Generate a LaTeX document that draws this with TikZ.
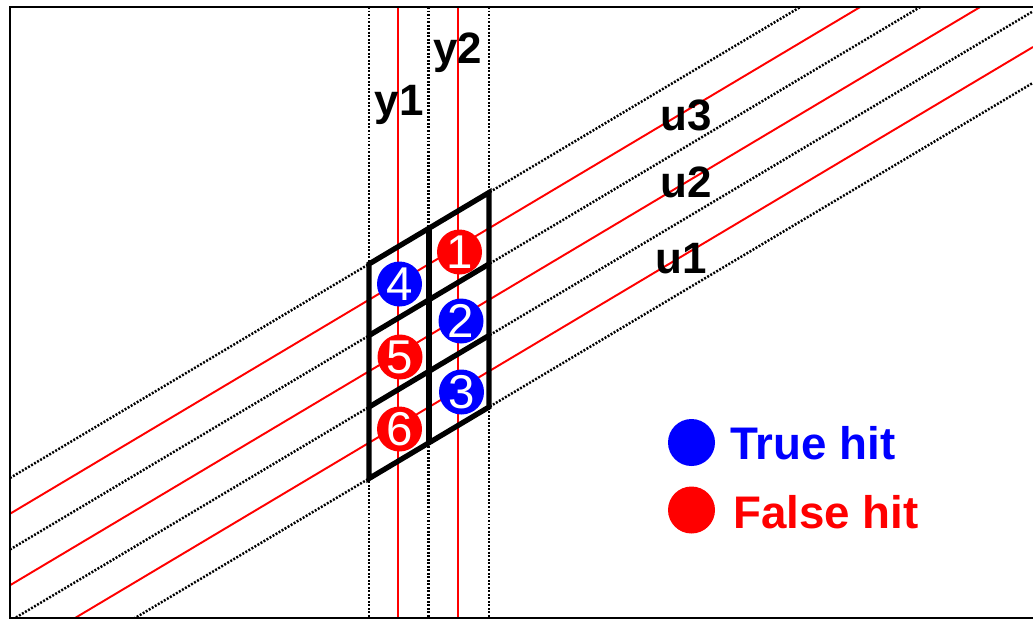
\documentclass[tikz,border=0pt]{standalone}
\usepackage{fontspec}
\setmainfont{Liberation Sans}
\usepackage{xcolor}
\usepackage{tikz}

\tikzset{
  hit/.style={circle,fill=#1,text=white,inner sep=0pt,minimum size=0.9cm,
    font=\fontsize{27}{27}\selectfont},
  lbl/.style={anchor=base,inner sep=0pt,font=\bfseries\fontsize{25}{30}\selectfont},
  key/.style={lbl,anchor=base west,font=\bfseries\fontsize{26}{30}\selectfont},
  strip/.style={line width=1.4pt,dash pattern=on 1.1pt off 0.9pt},
  track/.style={red,line width=1.1pt}
}

\begin{document}
\begin{tikzpicture}[x=0.02cm,y=-0.02cm]
\useasboundingbox (0,0) rectangle (1033,620);
\begin{scope}
\clip (10,7) rectangle (1033,618);
% u strips
\draw[strip](10,478)--(1033,-131.7);
\draw[strip](10,549.5)--(1033,-60.2);
\draw[strip](10,621)--(1033,11.3);
\draw[strip](10,692.5)--(1033,82.8);
\draw[track](10,513.75)--(1033,-96);
\draw[track](10,585.25)--(1033,-24.5);
\draw[track](10,656.75)--(1033,47);
% y strips
\draw[strip](369,7)--(369,618);
\draw[strip](428.5,7)--(428.5,618);
\draw[strip](489,7)--(489,618);
\draw[track](398,7)--(398,618);
\draw[track](458,7)--(458,618);
\end{scope}
% frame
\draw[line width=1.5pt](1033,7)--(10,7)--(10,618)--(1033,618);
% cells
\draw[line width=3pt,line join=miter](369,264)--(489,192.5)--(489,407)--(369,478.5)--cycle;
\draw[line width=3pt](429,228.2)--(429,442.7);
\draw[line width=3pt](369,335.5)--(489,264);
\draw[line width=3pt](369,407)--(489,335.5);
% hits
\node[hit=red](h1) at (459.5,252){1};
\node[hit=blue](h2) at (461,321){2};
\node[hit=blue](h3) at (461.5,392){3};
\node[hit=blue](h4) at (399.5,284){4};
\node[hit=red](h5) at (400,357){5};
\node[hit=red](h6) at (399.5,429){6};
% labels
\node[lbl](y1) at (399,115){y1};
\node[lbl](y2) at (457.5,63){y2};
\node[lbl](u3) at (686,130){u3};
\node[lbl](u2) at (686,197){u2};
\node[lbl](u1) at (681.5,273){u1};
% legend
\node[circle,fill=blue,inner sep=0pt,minimum size=0.94cm](ktrue) at (691.5,442.5){};
\node[circle,fill=red,inner sep=0pt,minimum size=0.94cm](kfalse) at (691.5,510){};
\node[key,text=blue](ttrue) at (730,459){True hit};
\node[key,text=red](tfalse) at (733,528){False hit};
\end{tikzpicture}
\end{document}
